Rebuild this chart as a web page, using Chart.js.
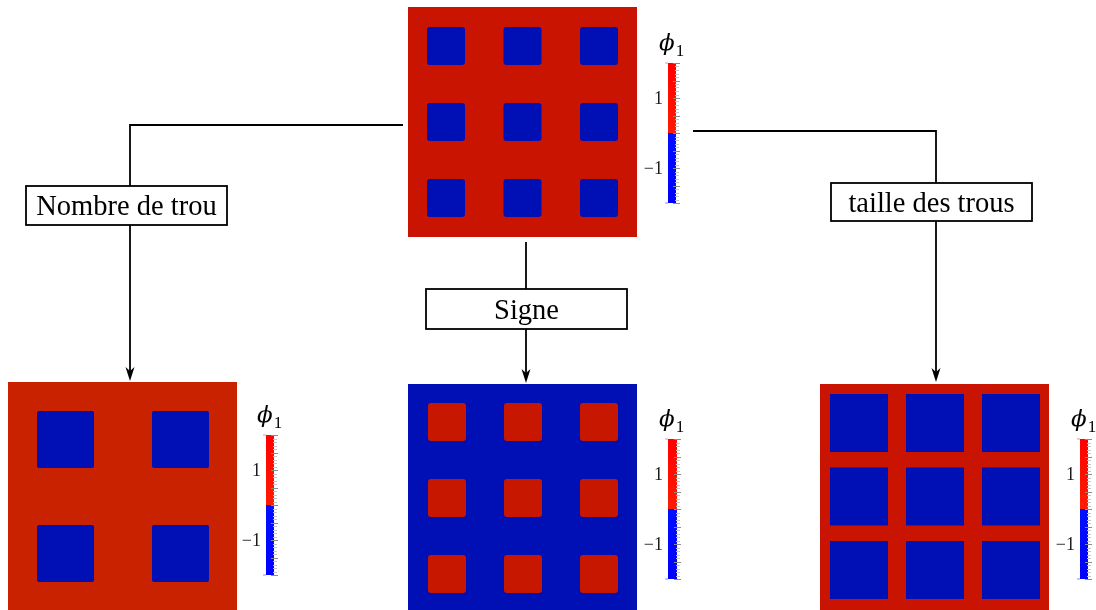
<!DOCTYPE html>
<html><head><meta charset="utf-8">
<script src="https://cdn.jsdelivr.net/npm/chart.js@4.4.1/dist/chart.umd.min.js"></script>
<style>html,body{margin:0;padding:0;background:#fff;overflow:hidden}</style>
</head><body>
<canvas id="c" width="1096" height="610"></canvas>
<script>
// ---------- data ----------
const panelIds = ['reference', 'nombre', 'signe', 'taille'];
const holesPerSide = [3, 2, 3, 3];
const fieldValue = [1, 1, -1, 1];      // phi_1 in the matrix
const holeValue = [-1, -1, 1, -1];     // phi_1 inside the holes
const colorbarTicks = [1, -1];
const colorbarRange = [-2, 2];
const colorbarTitle = 'ϕ';
const colorbarSub = '1';
const transformLabels = ['Nombre de trou', 'Signe', 'taille des trous'];

// ---------- layout / styles ----------
const PANELS = [
  {x:408, y:7,   w:229, h:230, hole:38, ox:19, oy:20, px:76.5, py:76, r:3, red:'#c81400', bar:{x:668, y:63,  w:8, h:140}},
  {x:8,   y:382, w:229, h:229, hole:57, ox:29, oy:29, px:115,  py:114, r:2, red:'#c82200', bar:{x:266, y:435, w:8, h:140}},
  {x:408, y:384, w:229, h:229, hole:38, ox:20, oy:19, px:76,   py:76, r:3, red:'#c81700', bar:{x:668, y:439, w:9, h:140}},
  {x:820, y:384, w:229, h:229, hole:58, ox:10, oy:10, px:76,   py:73.5, r:0, red:'#c81400', bar:{x:1080,y:439, w:8, h:140}}
];
const BLUE = '#0010b4';
const CONNECTORS = [
  {path:[[403,125],[130,125],[130,186]], box:[26,186,227,225], tail:[[130,225],[130,381]]},
  {path:[[526,242],[526,289]],           box:[426,289,627,329], tail:[[526,329],[526,383]]},
  {path:[[693,131],[936,131],[936,183]], box:[831,183,1032,221], tail:[[936,221],[936,382]]}
];

const diagram = {
  id: 'diagram',
  afterDraw(chart) {
    const c = chart.ctx;
    const X = v => chart.scales.x.getPixelForValue(v);
    const Y = v => chart.scales.y.getPixelForValue(v);

    function rrect(x0, y0, x1, y1, r) {
      c.beginPath();
      if (r > 0 && c.roundRect) c.roundRect(x0, y0, x1 - x0, y1 - y0, r);
      else c.rect(x0, y0, x1 - x0, y1 - y0);
      c.fill();
    }

    panelIds.forEach((id, i) => {
      const p = PANELS[i];
      c.save();
      c.fillStyle = fieldValue[i] > 0 ? p.red : BLUE;
      c.fillRect(X(p.x), Y(p.y), X(p.x + p.w) - X(p.x), Y(p.y + p.h) - Y(p.y));
      c.fillStyle = holeValue[i] > 0 ? p.red : BLUE;
      const n = holesPerSide[i];
      for (let a = 0; a < n; a++) {
        for (let b = 0; b < n; b++) {
          const hx = p.x + p.ox + b * p.px;
          const hy = p.y + p.oy + a * p.py;
          rrect(X(hx), Y(hy), X(hx + p.hole), Y(hy + p.hole), p.r);
        }
      }
      // colorbar
      const bar = p.bar;
      const span = colorbarRange[1] - colorbarRange[0];
      const vy = v => Y(bar.y + (colorbarRange[1] - v) / span * bar.h);
      const x0 = X(bar.x), x1 = X(bar.x + bar.w);
      const ymid = vy(0);
      let g = c.createLinearGradient(0, vy(colorbarRange[1]), 0, ymid);
      g.addColorStop(0, '#ff0000'); g.addColorStop(1, '#ff1c00');
      c.fillStyle = g;
      c.fillRect(x0, vy(colorbarRange[1]), x1 - x0, ymid - vy(colorbarRange[1]));
      g = c.createLinearGradient(0, ymid, 0, vy(colorbarRange[0]));
      g.addColorStop(0, '#0010ff'); g.addColorStop(1, '#0000ff');
      c.fillStyle = g;
      c.fillRect(x0, ymid, x1 - x0, vy(colorbarRange[0]) - ymid);
      // end marks
      c.fillStyle = '#ff8a8a';
      c.fillRect(x0 - 3, vy(colorbarRange[1]) - 0.5, 3, 1);
      c.fillStyle = '#8a8aff';
      c.fillRect(x0 - 3, vy(colorbarRange[0]) - 0.5, 3, 1);
      // minor ticks
      for (let k = 0; k <= 40; k++) {
        const v = colorbarRange[0] + k * 0.1;
        const yy = Math.round(vy(v)) + 0.5;
        const major = k % 5 === 0;
        c.strokeStyle = major ? '#8c8c8c' : '#c4c4c4';
        c.lineWidth = 1;
        c.beginPath();
        c.moveTo(x1 - (major ? 3 : 1), yy);
        c.lineTo(x1 + (major ? 4 : 3), yy);
        c.stroke();
      }
      // tick labels
      c.fillStyle = '#1a1a1a';
      c.font = '18px "Liberation Serif"';
      c.textAlign = 'right';
      c.textBaseline = 'alphabetic';
      colorbarTicks.forEach(t => {
        const label = t < 0 ? '\u2212' + Math.abs(t) : String(t);
        c.fillText(label, x0 - 5, vy(t) + 6);
      });
      // title
      c.fillStyle = '#000';
      c.textAlign = 'left';
      c.font = 'italic 23px "DejaVu Serif"';
      const top = vy(colorbarRange[1]);
      const tx = x0 - 9;
      c.fillText(colorbarTitle, tx, top - 13);
      const wphi = c.measureText(colorbarTitle).width;
      c.font = '17px "Liberation Serif"';
      c.fillText(colorbarSub, tx + wphi + 1, top - 7);
      c.restore();
    });

    // connectors, boxes, arrows
    c.save();
    c.strokeStyle = '#000';
    c.lineWidth = 1.8;
    c.lineJoin = 'miter';
    CONNECTORS.forEach((cn, i) => {
      c.beginPath();
      cn.path.forEach((pt, k) => k ? c.lineTo(X(pt[0]), Y(pt[1])) : c.moveTo(X(pt[0]), Y(pt[1])));
      c.stroke();
      const [a, b] = cn.tail;
      const tipY = Y(b[1]), ax = X(b[0]);
      c.beginPath();
      c.moveTo(X(a[0]), Y(a[1]));
      c.lineTo(ax, tipY - 8);
      c.stroke();
      c.fillStyle = '#000';
      c.beginPath();
      c.moveTo(ax, tipY);
      c.lineTo(ax - 4.5, tipY - 14);
      c.lineTo(ax, tipY - 10);
      c.lineTo(ax + 4.5, tipY - 14);
      c.closePath();
      c.fill();
      const [bx0, by0, bx1, by1] = cn.box;
      c.fillStyle = '#fff';
      c.fillRect(X(bx0), Y(by0), X(bx1) - X(bx0), Y(by1) - Y(by0));
      c.strokeRect(X(bx0), Y(by0), X(bx1) - X(bx0), Y(by1) - Y(by0));
      c.fillStyle = '#000';
      c.font = '28.5px "Liberation Serif"';
      c.textAlign = 'center';
      c.textBaseline = 'alphabetic';
      c.fillText(transformLabels[i], (X(bx0) + X(bx1)) / 2, (Y(by0) + Y(by1)) / 2 + 9.5);
    });
    c.restore();
  }
};

new Chart(document.getElementById('c'), {
  type: 'scatter',
  data: { datasets: [{ data: [], pointRadius: 0 }] },
  options: {
    responsive: false,
    animation: false,
    events: [],
    layout: { padding: 0 },
    scales: {
      x: { type: 'linear', min: 0, max: 1096, display: false },
      y: { type: 'linear', min: 0, max: 610, reverse: true, display: false }
    },
    plugins: { legend: { display: false }, tooltip: { enabled: false } }
  },
  plugins: [diagram]
});
</script>
</body></html>
